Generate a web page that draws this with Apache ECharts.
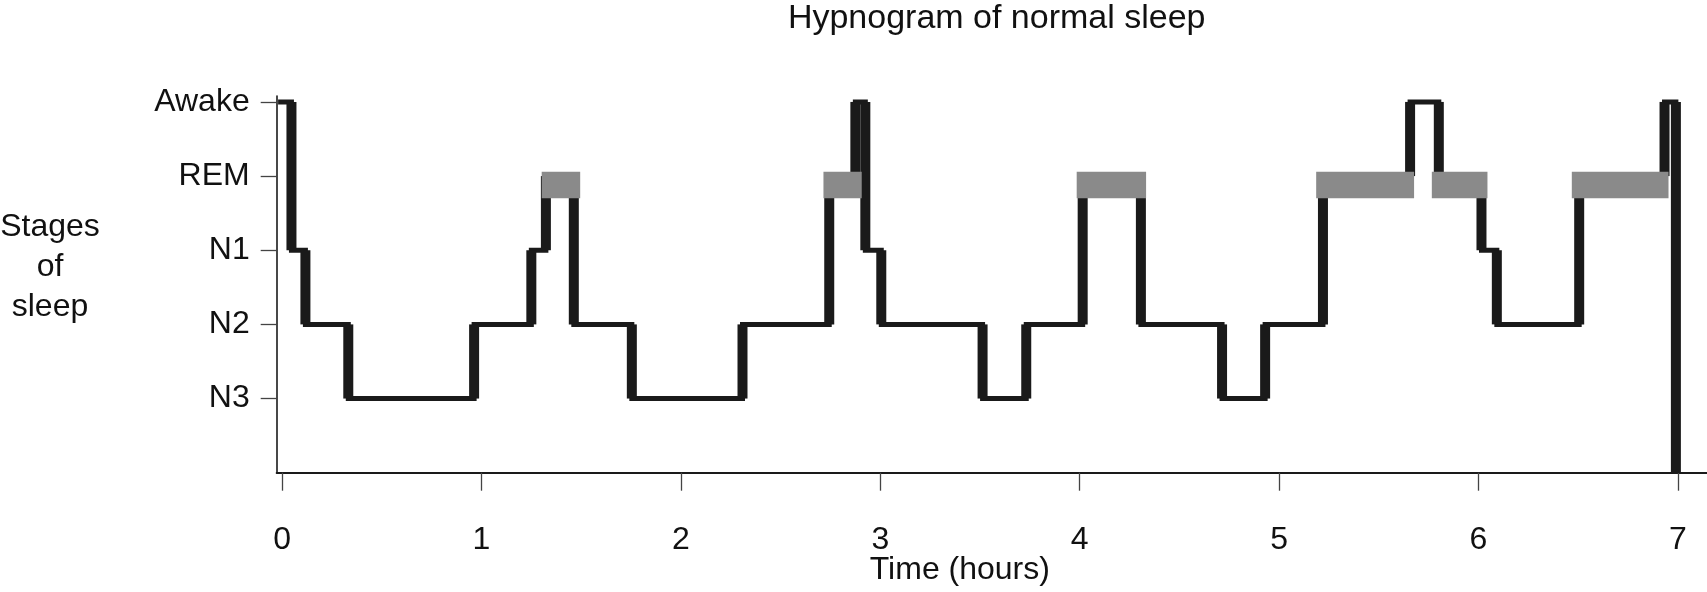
<!DOCTYPE html>
<html><head><meta charset="utf-8">
<script src="https://cdn.jsdelivr.net/npm/echarts@6/dist/echarts.min.js"></script>
<style>html,body{margin:0;padding:0;background:#fff}#c{width:1707px;height:592px}</style>
</head><body><div id="c"></div>
<script>
// Sleep stages, bottom to top (level 1..5)
const stageNames = ['N3', 'N2', 'N1', 'REM', 'Awake'];
const hourTicks = [0, 1, 2, 3, 4, 5, 6, 7];
// Start time (hours) of each epoch and its stage
const epochStart = [-0.02, 0.047, 0.117, 0.332, 0.963, 1.250, 1.323, 1.463, 1.754, 2.309,
  2.744, 2.875, 2.925, 3.005, 3.513, 3.732, 4.015, 4.307, 4.714, 4.930,
  5.220, 5.657, 5.801, 6.015, 6.092, 6.505, 6.933];
const epochStage = ['Awake', 'N1', 'N2', 'N3', 'N2', 'N1', 'REM', 'N2', 'N3', 'N2',
  'REM', 'Awake', 'N1', 'N2', 'N3', 'N2', 'REM', 'N2', 'N3', 'N2',
  'REM', 'Awake', 'REM', 'N1', 'N2', 'REM', 'Awake'];
const recordEnd = 6.990;
// REM periods (start, end) in hours
const remStart = [1.302, 2.715, 3.985, 5.186, 5.766, 6.468];
const remEnd = [1.495, 2.907, 4.333, 5.677, 6.045, 6.953];

const level = s => stageNames.indexOf(s) + 1;
const FONT = 'Liberation Sans';
const INK = '#1a1a1a';

const lineData = epochStart.map((t, i) => [t, level(epochStage[i])]);
lineData.push([recordEnd, 0]);

const vertData = [];
for (let i = 1; i < epochStart.length; i++) {
  vertData.push([epochStart[i], level(epochStage[i - 1]), level(epochStage[i])]);
}
vertData.push([recordEnd, level(epochStage[epochStage.length - 1]), 0]);

const remData = remStart.map((s, i) => [s, remEnd[i]]);
const REM_TOP = 4.06, REM_BOTTOM = 3.70;

const chart = echarts.init(document.getElementById('c'), null, {renderer: 'canvas'});
chart.setOption({
  animation: false,
  backgroundColor: '#fff',
  title: {
    text: 'Hypnogram of normal sleep',
    left: 991.7, top: -3, textAlign: 'center',
    textStyle: {fontFamily: FONT, fontSize: 34, fontWeight: 'normal', color: '#111'}
  },
  grid: {left: 276.7, right: 0, top: 96, bottom: 119.3, containLabel: false, outerBoundsMode: 'none'},
  xAxis: {
    type: 'value', min: -0.027, max: 7.146,
    name: 'Time (hours)', nameLocation: 'middle', nameGap: 85, nameMoveOverlap: false,
    nameTextStyle: {fontFamily: FONT, fontSize: 32, lineHeight: 24, color: '#111', align: 'center', padding: [0, 64, 0, 0]},
    axisLine: {show: true, onZero: false, lineStyle: {color: INK, width: 2}},
    axisTick: {show: true, length: 18, customValues: hourTicks, lineStyle: {color: '#444', width: 1.3}},
    axisLabel: {customValues: hourTicks, margin: 55, lineHeight: 24, fontFamily: FONT, fontSize: 32, color: '#111'},
    splitLine: {show: false}
  },
  yAxis: {
    type: 'value', min: 0, max: 5.08,
    name: '{a|Stages}\n{a|of}\n{a|sleep}\n{b| }', nameLocation: 'middle', nameRotate: 0, nameGap: 226.7,
    nameMoveOverlap: false,
    nameTextStyle: {
      fontFamily: FONT, fontSize: 32, color: '#111', align: 'center',
      rich: {
        a: {fontFamily: FONT, fontSize: 32, color: '#111', lineHeight: 40},
        b: {fontFamily: FONT, fontSize: 10, lineHeight: 35}
      }
    },
    axisLine: {show: true, onZero: false, lineStyle: {color: INK, width: 1.6}},
    axisTick: {show: true, length: 16, customValues: [1, 2, 3, 4, 5], lineStyle: {color: '#444', width: 1.3}},
    axisLabel: {
      customValues: [1, 2, 3, 4, 5], margin: 27, fontFamily: FONT, fontSize: 32, color: '#111',
      formatter: v => stageNames[Math.round(v) - 1] || ''
    },
    splitLine: {show: false}
  },
  series: [
    {
      type: 'line', data: lineData, step: 'end', symbol: 'none', z: 2,
      lineStyle: {color: INK, width: 5, join: 'miter', cap: 'butt'}
    },
    {
      type: 'custom', data: vertData, z: 3, encode: {x: 0, y: [1, 2]},
      renderItem: (params, api) => {
        const p1 = api.coord([api.value(0), api.value(1)]);
        const p2 = api.coord([api.value(0), api.value(2)]);
        return {type: 'line', shape: {x1: p1[0], y1: p1[1], x2: p2[0], y2: p2[1]},
          style: {stroke: INK, lineWidth: 10, lineCap: 'butt'}};
      }
    },
    {
      type: 'custom', data: remData, z: 4, encode: {x: [0, 1]},
      renderItem: (params, api) => {
        const a = api.coord([api.value(0), REM_TOP]);
        const b = api.coord([api.value(1), REM_BOTTOM]);
        return {type: 'rect', shape: {x: a[0], y: a[1], width: b[0] - a[0], height: b[1] - a[1]},
          style: {fill: '#8a8a8a'}};
      }
    }
  ]
});
</script>
</body></html>
